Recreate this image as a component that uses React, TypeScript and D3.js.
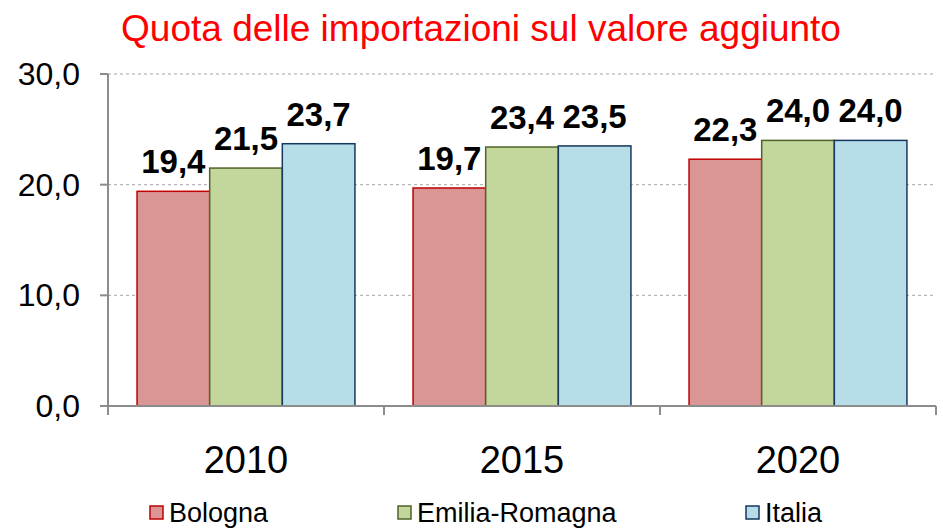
import React from 'react';
import * as d3 from 'd3';

// dati
const years = ['2010', '2015', '2020'];
const seriesNames = ['Bologna', 'Emilia-Romagna', 'Italia'];
const bologna = [19.4, 19.7, 22.3];
const emiliaRomagna = [21.5, 23.4, 24.0];
const italia = [23.7, 23.5, 24.0];
const yTicks = [0, 10, 20, 30];

const fills = ['#D99694', '#C3D69B', '#B7DDE8'];
const strokes = ['#C00000', '#4F6228', '#17375E'];

const W = 943;
const H = 529;
const left = 108;
const right = 936;
const top = 74;
const bottom = 406;

const fmt = (v: number) => v.toFixed(1).replace('.', ',');

const App = () => {
  const values = [bologna, emiliaRomagna, italia];

  const x0 = d3.scaleBand().domain(years).range([left, right]).paddingInner(0).paddingOuter(0);
  const x1 = d3
    .scaleBand()
    .domain(seriesNames)
    .range([0, x0.bandwidth()])
    .paddingOuter(0.4)
    .paddingInner(0);
  const y = d3.scaleLinear().domain([0, 30]).range([bottom, top]);

  const font = 'Arial, "Liberation Sans", sans-serif';
  const boundaries = [...years.map(yr => x0(yr) as number), right];
  const legendX = [150, 398, 746];

  return (
    <svg width={W} height={H} style={{ position: 'absolute', left: 0, top: 0 }} fontFamily={font}>
      <rect width={W} height={H} fill="#fff" />
      {/* titolo */}
      <text x={481} y={41} textAnchor="middle" fontSize={37} fill="#FF0000">
        Quota delle importazioni sul valore aggiunto
      </text>

      {/* griglia */}
      {yTicks.filter(t => t > 0).map(t => (
        <line key={t} x1={left} x2={right} y1={y(t)} y2={y(t)} stroke="#A6A6A6" strokeDasharray="3,3" strokeWidth={1} />
      ))}

      {/* barre */}
      {years.map((yr, i) => (
        <g key={yr} transform={`translate(${x0(yr)},0)`}>
          {seriesNames.map((s, j) => (
            <rect
              key={s}
              x={x1(s)}
              y={y(values[j][i])}
              width={x1.bandwidth()}
              height={bottom - y(values[j][i])}
              fill={fills[j]}
              stroke={strokes[j]}
              strokeWidth={1.5}
            />
          ))}
          {seriesNames.map((s, j) => (
            <text
              key={s + 'l'}
              x={(x1(s) as number) + x1.bandwidth() / 2}
              y={y(values[j][i]) - 18}
              textAnchor="middle"
              fontSize={33}
              fontWeight="bold"
              fill="#000"
            >
              {fmt(values[j][i])}
            </text>
          ))}
        </g>
      ))}

      {/* assi */}
      <line x1={left} x2={left} y1={top} y2={bottom} stroke="#8C8C8C" strokeWidth={2} />
      <line x1={left} x2={right} y1={bottom} y2={bottom} stroke="#8C8C8C" strokeWidth={2} />
      {yTicks.map(t => (
        <g key={t}>
          <line x1={left - 8} x2={left} y1={y(t)} y2={y(t)} stroke="#8C8C8C" strokeWidth={2} />
          <text x={80} y={y(t) + 11} textAnchor="end" fontSize={32} fill="#000">
            {fmt(t)}
          </text>
        </g>
      ))}
      {boundaries.map((b, i) => (
        <line key={i} x1={b} x2={b} y1={bottom} y2={bottom + 9} stroke="#8C8C8C" strokeWidth={2} />
      ))}
      {years.map(yr => (
        <text key={yr} x={(x0(yr) as number) + x0.bandwidth() / 2} y={473} textAnchor="middle" fontSize={38} fill="#000">
          {yr}
        </text>
      ))}

      {/* legenda */}
      {seriesNames.map((s, j) => (
        <g key={s}>
          <rect x={legendX[j]} y={506} width={13} height={13} fill={fills[j]} stroke={strokes[j]} strokeWidth={1.5} />
          <text x={legendX[j] + 19} y={522} fontSize={27} fill="#000">
            {s}
          </text>
        </g>
      ))}
    </svg>
  );
};

export default App;
